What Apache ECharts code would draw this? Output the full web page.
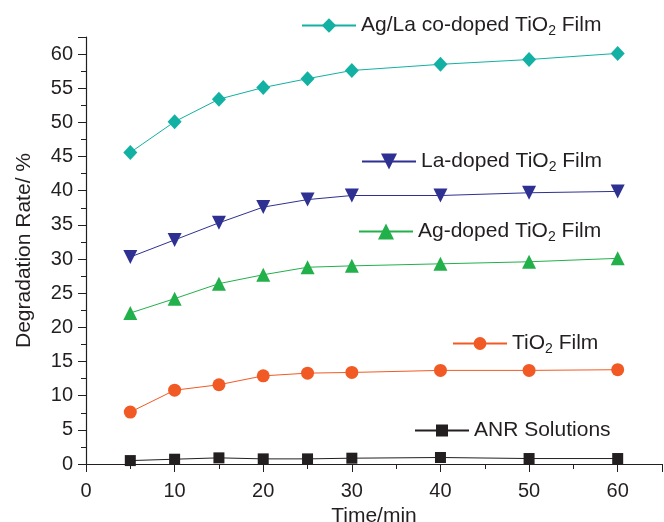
<!DOCTYPE html>
<html>
<head>
<meta charset="utf-8">
<title>Degradation Rate</title>
<script src="https://cdn.jsdelivr.net/npm/echarts@6/dist/echarts.min.js"></script>
</head>
<body style="margin:0">
<div id="main" style="width:664px;height:522px;"></div>
<script type="text/javascript">
// time points (min)
var times = [5, 10, 15, 20, 25, 30, 40, 50, 60];

// degradation rate (%) per sample
var agLaFilm = [45.6, 50.1, 53.4, 55.1, 56.4, 57.6, 58.5, 59.2, 60.1];
var laFilm   = [30.3, 32.8, 35.3, 37.6, 38.7, 39.3, 39.3, 39.7, 39.9];
var agFilm   = [22.1, 24.2, 26.4, 27.7, 28.8, 29.0, 29.3, 29.6, 30.1];
var tioFilm  = [7.6, 10.8, 11.6, 12.9, 13.3, 13.4, 13.7, 13.7, 13.8];
var anrSol   = [0.5, 0.7, 0.9, 0.75, 0.75, 0.85, 0.95, 0.8, 0.8];

var names = ['Ag/La co-doped TiO2 Film', 'La-doped TiO2 Film', 'Ag-doped TiO2 Film', 'TiO2 Film', 'ANR Solutions'];

var font = 'Liberation Sans, Arial, sans-serif';
var axisColor = '#231f20';

function pairs(ys) {
    return times.map(function (t, i) { return [t, ys[i]]; });
}

function mkSeries(name, ys, color, symbol, size) {
    return {
        name: name,
        type: 'line',
        data: pairs(ys),
        symbol: symbol,
        symbolSize: size,
        lineStyle: {color: color, width: 1},
        itemStyle: {color: color},
        emphasis: {disabled: true},
        animation: false
    };
}

// one legend box per series, placed next to its curve
function mkLegend(name, left, top, iconH) {
    return {
        data: [name],
        left: left,
        top: top,
        padding: 0,
        itemWidth: 54,
        itemHeight: iconH,
        selectedMode: false,
        formatter: function (n) { return n.replace('TiO2', 'TiO{sub|2}'); },
        textStyle: {
            fontFamily: font,
            fontSize: 21,
            color: axisColor,
            rich: {
                sub: {fontFamily: font, fontSize: 14, color: axisColor, padding: [12, 0, 0, 0]}
            }
        }
    };
}

var myChart = echarts.init(document.getElementById('main'));

var option = {
    backgroundColor: '#fff',
    animation: false,
    grid: {left: 86, right: 2, top: 37, bottom: 58, outerBoundsMode: 'none'},
    legend: [
        mkLegend(names[0], 301, 15, 18),
        mkLegend(names[1], 361, 151, 20),
        mkLegend(names[2], 358, 221, 20),
        mkLegend(names[3], 452, 333, 16),
        mkLegend(names[4], 414, 420, 15)
    ],
    xAxis: {
        type: 'value',
        min: 0,
        max: 65,
        interval: 10,
        name: 'Time/min',
        nameLocation: 'middle',
        nameGap: 38,
        nameTextStyle: {fontFamily: font, fontSize: 21, color: axisColor},
        axisLine: {lineStyle: {color: axisColor, width: 1.2}},
        axisTick: {show: true, length: 8, lineStyle: {color: axisColor}},
        minorTick: {show: true, splitNumber: 2, length: 5, lineStyle: {color: axisColor}},
        axisLabel: {
            fontFamily: font, fontSize: 20, color: axisColor, margin: 17,
            showMaxLabel: false,
            formatter: function (v) { return v % 10 === 0 ? v : ''; }
        },
        splitLine: {show: false}
    },
    yAxis: {
        type: 'value',
        min: 0,
        max: 62.5,
        interval: 5,
        name: 'Degradation Rate/ %',
        nameLocation: 'middle',
        nameGap: 51,
        nameTextStyle: {fontFamily: font, fontSize: 21, color: axisColor},
        axisLine: {show: true, lineStyle: {color: axisColor, width: 1.2}},
        axisTick: {show: true, length: 8, lineStyle: {color: axisColor}},
        minorTick: {show: true, splitNumber: 2, length: 5, lineStyle: {color: axisColor}},
        axisLabel: {
            fontFamily: font, fontSize: 20, color: axisColor, margin: 13,
            showMaxLabel: false,
            formatter: function (v) { return v % 5 === 0 ? v : ''; }
        },
        splitLine: {show: false}
    },
    series: [
        mkSeries(names[0], agLaFilm, '#12b1a3', 'diamond', [14, 15]),
        mkSeries(names[1], laFilm, '#2e3192', 'triangle', 14),
        mkSeries(names[2], agFilm, '#22b04b', 'triangle', 14),
        mkSeries(names[3], tioFilm, '#f15a24', 'circle', 13),
        mkSeries(names[4], anrSol, '#231f20', 'rect', 11)
    ]
};
// La-doped uses a downward triangle
option.series[1].symbolRotate = 180;

myChart.setOption(option);
</script>
</body>
</html>
